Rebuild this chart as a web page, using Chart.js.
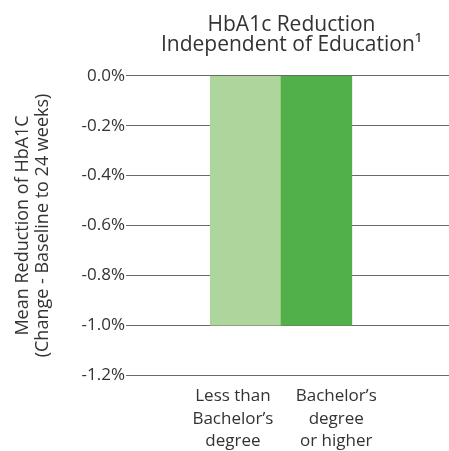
<!DOCTYPE html>
<html>
<head>
<meta charset="utf-8">
<script src="https://cdn.jsdelivr.net/npm/chart.js@4/dist/chart.umd.min.js"></script>
<style>
  html, body { margin: 0; padding: 0; background: #ffffff; }
  #wrap { width: 449px; height: 451px; position: relative; }
</style>
</head>
<body>
<div id="wrap"><canvas id="c"></canvas></div>
<script>
// ---- data ----
const categories = [
  ["Less than", "Bachelor\u2019s", "degree"],
  ["Bachelor\u2019s", "degree", "or higher"]
];
const hba1cChange = [-1.0, -1.0];
const yTickValues = [0, -0.2, -0.4, -0.6, -0.8, -1.0, -1.2];
const barColors = ["#aed69c", "#52b04a"];
const chartTitle = ["HbA1c Reduction", "Independent of Education\u00b9"];
const yAxisTitle = ["Mean Reduction of HbA1C", "(Change - Baseline to 24 weeks)"];

// ---- layout / style ----
const textColor = "#333333";
const font = "'Open Sans', sans-serif";
const labelShift = [-0.18, 0.28]; // horizontal offset of each category label (in bar widths)

new Chart(document.getElementById("c"), {
  type: "bar",
  data: {
    datasets: [{
      data: hba1cChange.map((v, i) => ({ x: i, y: v })),
      backgroundColor: barColors,
      borderWidth: 0,
      barPercentage: 1,
      categoryPercentage: 1
    }]
  },
  options: {
    responsive: true,
    maintainAspectRatio: false,
    animation: false,
    layout: { padding: 0 },
    plugins: {
      legend: { display: false },
      tooltip: { enabled: false },
      title: {
        display: true,
        text: chartTitle,
        fullSize: false,
        color: textColor,
        font: { family: font, size: 21, weight: "normal", lineHeight: 0.95 },
        padding: { top: 15, bottom: 21 }
      }
    },
    scales: {
      x: {
        type: "linear",
        offset: false,
        min: -1.577,
        max: 2.873,
        grid: { display: false, drawTicks: false, offset: false },
        border: { display: false },
        afterBuildTicks: (scale) => {
          scale.ticks = categories.map((_, i) => ({ value: i + labelShift[i] }));
        },
        afterFit: (scale) => { scale.height = 76; },
        ticks: {
          autoSkip: false,
          maxRotation: 0,
          padding: 10,
          color: textColor,
          font: { family: font, size: 17, lineHeight: 1.33 },
          callback: (v, i) => categories[i]
        }
      },
      y: {
        min: -1.2,
        max: 0,
        afterBuildTicks: (scale) => {
          scale.ticks = yTickValues.map(v => ({ value: v }));
        },
        grid: { color: "#6a6a6a", lineWidth: 1, drawTicks: true, tickLength: 8, tickColor: "#6a6a6a" },
        border: { display: false },
        ticks: {
          padding: 1,
          color: textColor,
          font: { family: font, size: 17 },
          callback: (v) => (Math.abs(v) < 1e-9 ? 0 : v).toFixed(1) + "%"
        },
        title: {
          display: true,
          text: yAxisTitle,
          color: textColor,
          font: { family: font, size: 18, lineHeight: 1.1 },
          padding: { top: 13, bottom: 28 }
        }
      }
    }
  }
});
</script>
</body>
</html>
